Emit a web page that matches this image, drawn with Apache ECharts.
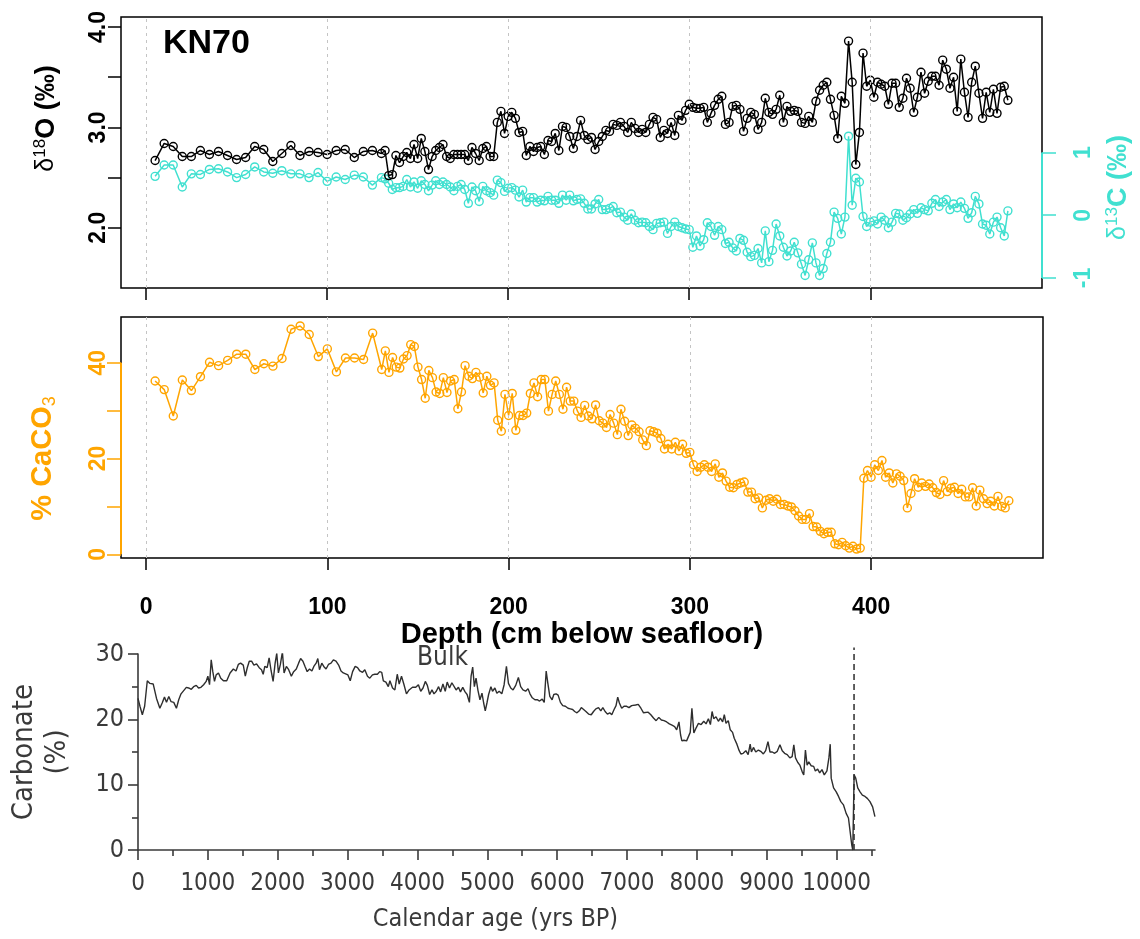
<!DOCTYPE html>
<html>
<head>
<meta charset="utf-8">
<script src="https://cdn.jsdelivr.net/npm/echarts@6.0.0/dist/echarts.min.js"></script>
<style>
html,body{margin:0;padding:0;background:#fff;}
#chart{width:1140px;height:939px;}
</style>
</head>
<body>
<div id="chart"></div>
<script>
// ---------------- DATA ----------------
const depth = [5,10,15,20,25,30,35,40,45,50,55,60,65,70,75,80,85,90,95,100,105,110,115,120,125,130,
132,134,136,138,140,142,144,146,148,150,152,154,156,158,160,162,164,166,168,170,
172,174,176,178,180,182,184,186,188,190,192,194,196,198,200,202,204,206,208,210,
212,214,216,218,220,222,224,226,228,230,232,234,236,238,240,242,244,246,248,250,
252,254,256,258,260,262,264,266,268,270,272,274,276,278,280,282,284,286,288,290,
292,294,296,298,300,302,304,306,308,310,312,314,316,318,320,322,324,326,328,330,
332,334,336,338,340,342,344,346,348,350,352,354,356,358,360,362,364,366,368,370,
372,374,376,378,380,382,384,386,388,390,392,394,396,398,400,402,404,406,408,410,
412,414,416,418,420,422,424,426,428,430,432,434,436,438,440,442,444,446,448,450,
452,454,456,458,460,462,464,466,468,470,472,474,476];

const d18O = [2.67,2.84,2.81,2.71,2.71,2.77,2.73,2.76,2.72,2.68,2.70,2.81,2.78,2.66,2.74,2.82,2.72,2.76,2.75,2.73,2.77,2.78,2.70,2.76,2.77,2.74,
2.77,2.52,2.53,2.72,2.65,2.71,2.75,2.69,2.83,2.69,2.89,2.76,2.58,2.71,2.77,2.80,2.83,2.71,2.69,2.73,
2.73,2.73,2.73,2.67,2.80,2.74,2.67,2.79,2.81,2.71,2.71,3.05,3.16,2.94,3.11,3.15,3.09,2.95,2.96,2.72,
2.81,2.76,2.80,2.81,2.73,2.87,2.86,2.94,2.77,3.01,3.00,2.91,2.79,2.91,3.07,2.92,2.88,2.90,2.78,2.86,
2.91,2.97,2.96,3.03,3.02,3.05,3.01,2.95,3.05,2.99,2.95,2.98,2.95,3.03,3.10,3.08,2.90,2.97,2.94,3.05,
2.92,3.12,3.07,3.17,3.23,3.20,3.19,3.19,3.20,3.05,3.14,3.22,3.28,3.31,3.03,3.05,3.21,3.22,3.18,2.96,
3.09,3.15,3.13,2.98,3.05,3.29,3.15,3.13,3.18,3.32,3.05,3.21,3.16,3.17,3.16,3.05,3.04,3.11,3.05,3.26,
3.37,3.42,3.45,3.28,3.12,2.89,3.31,3.24,3.86,3.45,2.63,2.95,3.74,3.41,3.47,3.30,3.45,3.43,3.41,3.23,
3.44,3.44,3.20,3.29,3.49,3.39,3.15,3.30,3.55,3.34,3.46,3.51,3.51,3.42,3.67,3.58,3.39,3.50,3.16,3.68,
3.35,3.10,3.45,3.61,3.34,3.09,3.35,3.15,3.38,3.14,3.40,3.41,3.27];

const d13C = [0.62,0.80,0.80,0.45,0.66,0.65,0.73,0.74,0.69,0.60,0.65,0.77,0.69,0.67,0.71,0.66,0.66,0.60,0.68,0.54,0.61,0.57,0.64,0.61,0.48,0.60,
0.58,0.51,0.41,0.44,0.44,0.46,0.57,0.45,0.53,0.43,0.55,0.49,0.39,0.48,0.55,0.49,0.53,0.49,0.45,0.39,
0.46,0.49,0.41,0.19,0.45,0.39,0.22,0.46,0.39,0.36,0.32,0.56,0.52,0.38,0.43,0.44,0.40,0.29,0.40,0.21,
0.28,0.28,0.21,0.24,0.23,0.30,0.24,0.24,0.19,0.32,0.24,0.32,0.23,0.25,0.26,0.19,0.10,0.10,0.18,0.25,
0.09,0.09,0.11,0.14,0.04,0.05,-0.03,-0.08,0.02,-0.08,-0.12,-0.11,-0.12,-0.18,-0.23,-0.13,-0.12,-0.11,-0.29,-0.18,
-0.11,-0.18,-0.20,-0.22,-0.23,-0.51,-0.33,-0.49,-0.39,-0.12,-0.18,-0.32,-0.18,-0.23,-0.45,-0.43,-0.52,-0.57,-0.37,-0.40,
-0.59,-0.66,-0.64,-0.53,-0.76,-0.25,-0.74,-0.56,-0.14,-0.33,-0.51,-0.65,-0.57,-0.43,-0.60,-0.78,-0.96,-0.71,-0.44,-0.76,
-0.96,-0.85,-0.61,-0.43,0.05,-0.05,-0.30,-0.03,1.26,0.16,0.59,0.53,-0.02,-0.18,-0.11,-0.09,-0.14,-0.03,-0.08,-0.20,
-0.11,0.03,0.02,-0.08,-0.04,0.02,0.09,0.03,0.12,0.09,0.07,0.19,0.25,0.14,0.21,0.25,0.09,0.18,0.12,0.21,
0.11,-0.05,0.04,0.30,0.18,-0.14,-0.16,-0.30,-0.11,-0.03,-0.20,-0.33,0.07];

const caco3 = [36.2,34.4,28.9,36.4,34.2,37.1,40.1,39.4,40.5,41.8,41.8,38.6,39.8,39.3,40.9,47.0,47.7,45.9,41.3,42.9,38.1,41.0,41.0,40.7,46.2,38.6,
42.5,38.0,41.1,39.1,38.9,40.8,41.5,43.8,43.4,39.1,36.5,32.6,38.4,36.9,33.9,33.6,36.9,33.8,36.2,36.5,
30.4,33.9,39.4,37.2,36.7,38.0,37.0,33.7,37.2,35.3,35.8,28.0,25.7,33.4,29.0,33.6,25.9,29.0,29.0,29.5,
33.6,35.8,32.9,36.5,36.5,29.9,33.4,36.2,33.4,30.3,34.9,32.0,32.0,29.9,28.6,31.1,28.9,28.3,31.2,27.9,
27.4,26.5,29.2,27.4,25.0,30.3,27.8,24.8,27.0,26.3,25.6,23.9,22.7,25.8,25.6,25.3,24.2,22.0,23.0,22.0,
23.4,21.6,23.0,21.1,21.3,18.7,17.3,18.2,18.7,18.2,17.3,18.9,16.1,17.0,15.3,14.0,13.9,14.6,14.9,15.1,
13.0,13.0,11.6,11.8,9.7,11.3,11.6,11.1,11.5,10.4,10.4,10.1,9.9,9.1,8.0,7.3,7.3,8.5,5.8,5.7,
4.8,4.3,4.6,4.6,2.2,2.0,2.5,1.8,1.3,1.7,1.1,1.3,15.9,17.5,16.1,18.7,17.5,19.6,16.1,17.0,
14.9,16.8,16.3,15.4,9.7,12.7,15.8,14.0,14.9,14.2,14.7,13.9,12.9,12.5,15.4,13.1,13.8,14.0,12.7,13.6,
12.0,12.0,13.9,10.1,13.4,11.6,10.6,11.1,10.1,12.1,10.0,9.7,11.2];

const depthTicks = [0,100,200,300,400];
const d18OTicks = [2.0,2.5,3.0,3.5,4.0];
const d18OLabels = [2.0,3.0,4.0];
const d18OLim = [1.5,4.0];
const d13CTicks = [-1,0,1];
const d13CLim = [-1,3];
const caco3Ticks = [0,10,20,30,40];
const caco3Labels = [0,20,40];

const age = [0,28,62,95,133,171,218,265,313,346,379,408,441,474,512,550,583,616,654,692,725,763,796,834,867,901,939,976,1000,1024,1048,1071,1095,1119,1152,1185,1223,1270,1318,1365,1403,1436,1469,1507,1536,1564,1593,1626,1659,1697,1735,1768,1792,1815,1849,1877,1906,1934,1963,1986,2010,2038,2067,2091,2124,2157,2195,2228,2266,2299,2328,2361,2394,2422,2456,2489,2517,2550,2574,2598,2631,2659,2692,2726,2763,2797,2834,2872,2906,2939,2967,3005,3038,3072,3109,3143,3176,3214,3247,3285,3318,3356,3389,3427,3460,3489,
3512,3549,3583,3606,3644,3677,3711,3739,3772,3805,3843,3881,3929,3976,4014,4047,4080,4113,4142,4175,4208,4237,4270,4303,4332,4365,4398,4426,4459,4493,4521,4554,4587,4616,4649,4682,4711,4744,4768,4791,4815,4839,4867,4895,4924,4948,4971,4995,5019,5052,5075,5109,5137,5170,5208,5241,5274,5303,5336,5369,5407,5445,5478,5511,5549,5583,5611,5644,5682,5715,5748,5786,5815,5843,5867,5895,5928,5952,5985,6014,6047,6080,6118,6156,6189,6222,6251,6284,6317,6346,6379,6412,6450,6488,6521,6554,6592,6625,6654,6687,6720,6753,6782,6815,6843,6867,6891,6924,6957,6995,7028,
7066,7123,7161,7199,7237,7265,7303,7341,7379,7417,7455,7492,7530,7568,7606,7644,7682,7711,7744,7767,7786,7815,7853,7881,7905,7929,7957,7990,8023,8061,8099,8132,8165,8194,8218,8241,8274,8308,8336,8369,8393,8417,8450,8478,8511,8535,8573,8606,8630,8663,8701,8734,8763,8781,8810,8843,8881,8914,8952,8985,9018,9047,9080,9113,9151,9189,9222,9256,9293,9331,9364,9388,9412,9445,9474,9507,9530,9554,9578,9602,9635,9672,9696,9729,9758,9791,9824,9862,9890,9909,9923,9957,9995,10028,10061,10099,10137,10170,10194,10217,10232,10251,10274,10303,10336,10369,10407,10440,10478,10516,10549];

const carb = [23.2,22.0,20.7,22.0,25.9,25.5,25.4,23.2,21.7,22.5,23.4,22.6,23.5,22.7,22.6,21.7,23.0,23.9,24.4,24.9,24.8,24.6,25.0,25.2,24.8,24.9,25.3,25.8,26.6,25.3,29.1,27.3,25.8,26.8,27.1,26.3,25.9,25.9,27.1,27.7,27.4,28.4,28.6,28.3,26.6,27.9,28.9,28.9,28.3,28.5,27.9,27.6,26.9,28.1,27.9,29.4,27.4,25.8,28.6,30.1,27.1,28.4,30.3,27.1,28.1,27.6,26.6,27.3,27.7,28.6,29.3,28.9,28.0,27.3,27.7,27.4,28.1,28.6,29.3,27.6,28.6,28.1,27.7,28.4,28.6,29.1,28.9,28.3,27.4,27.1,27.3,26.8,25.9,27.3,28.1,27.9,27.4,27.2,27.6,26.6,26.3,26.8,26.9,26.9,27.3,27.2,
25.9,25.7,25.0,25.9,24.8,24.5,26.9,25.4,26.6,25.4,23.9,24.5,24.9,24.9,25.3,24.3,24.8,25.8,25.2,23.8,24.5,23.9,24.3,25.0,24.2,25.4,24.3,25.7,24.8,25.6,25.7,24.5,24.9,24.2,24.9,24.2,23.8,22.6,26.6,28.0,25.0,26.3,24.4,23.0,24.0,22.5,21.3,22.5,23.8,25.0,24.3,24.8,24.0,24.3,23.9,25.3,28.1,25.5,24.8,24.5,25.2,26.4,25.0,24.5,24.3,24.7,23.9,23.3,23.0,23.0,22.8,23.1,22.6,27.4,25.5,23.5,23.0,23.8,23.9,23.7,22.6,22.1,22.0,21.7,21.6,21.5,21.2,21.0,21.3,21.8,21.5,21.2,20.8,20.7,21.2,21.6,21.8,21.3,21.8,21.2,20.8,21.0,20.7,21.5,22.1,23.4,22.5,21.7,22.0,22.0,21.8,
22.1,22.2,22.3,21.7,21.0,20.7,21.1,20.7,20.2,19.8,20.3,19.9,19.8,19.6,19.3,19.1,18.9,18.4,19.6,17.6,16.7,16.8,16.7,16.8,18.0,21.7,17.9,18.7,19.4,19.2,19.7,19.3,20.1,19.2,21.2,20.1,20.4,19.7,20.2,19.6,20.7,19.4,19.8,18.4,18.0,17.1,16.2,15.2,14.7,14.8,15.2,14.6,16.2,15.0,15.7,15.0,15.3,15.1,14.7,15.2,16.6,15.0,15.0,14.8,15.1,16.1,15.2,14.8,14.6,14.1,14.3,16.1,14.1,13.4,13.0,12.0,11.5,15.3,13.0,13.5,12.9,12.8,12.1,12.4,11.8,12.3,11.5,12.1,14.1,16.2,11.0,9.5,8.9,8.2,7.4,6.9,5.6,4.9,2.8,0.8,0.0,11.5,11.0,9.5,8.9,8.4,8.2,7.9,7.4,6.6,5.1];

const ageTicks = [0,1000,2000,3000,4000,5000,6000,7000,8000,9000,10000];
const ageMinorTicks = [500,1500,2500,3500,4500,5500,6500,7500,8500,9500,10500];
const ageLim = [0,10550];
const carbTicks = [0,10,20,30];
const carbMinorTicks = [5,15,25];
const carbLim = [0,30];
const eventAge = 10250;
const eventTop = 31;

// ---------------- HELPERS ----------------
const zip = (a,b) => a.map((v,i)=>[v,b[i]]);
const rExt = (lo,hi) => [lo-0.04*(hi-lo), hi+0.04*(hi-lo)]; // R default axis padding
const dRange = rExt(depth[0], depth[depth.length-1]);
const oRange = rExt(d18OLim[0], d18OLim[1]);
const cRange = rExt(d13CLim[0], d13CLim[1]);
const kRange = rExt(Math.min(...caco3), Math.max(...caco3));

const BLACK = '#000000', TURQ = '#40E0D0', ORANGE = '#FFA500', GREY = '#3a3a3a';
const SANS = "'Liberation Sans', Arial, Helvetica, sans-serif";
const NARROW = "'Liberation Sans Narrow', 'Arial Narrow', 'DejaVu Sans Condensed', sans-serif";
const plain = v => String(v);

function depthAxis(grid, showLabels){
  return {
    type:'value', gridIndex:grid, min:dRange[0], max:dRange[1], position:'bottom',
    axisLine:{show:false, onZero:false},
    axisTick:{show:true, customValues:depthTicks, length:12, lineStyle:{color:BLACK, width:1.5}},
    axisLabel:{show:showLabels, customValues:depthTicks, margin:38, color:BLACK,
      fontFamily:SANS, fontWeight:'bold', fontSize:23, formatter:plain},
    splitLine:{show:false}
  };
}

function gridLines(xi, yi){
  return {type:'line', xAxisIndex:xi, yAxisIndex:yi, data:[], silent:true, z:1,
    markLine:{silent:true, symbol:['none','none'], label:{show:false}, animation:false,
      emphasis:{disabled:true},
      lineStyle:{color:'#c4c4c4', width:1, type:[3,4]},
      data: depthTicks.map(v=>({xAxis:v}))}};
}

function ptSeries(xi, yi, data, color){
  return {type:'line', xAxisIndex:xi, yAxisIndex:yi, data:data, z:3,
    symbol:'circle', symbolSize:8, showAllSymbol:true,
    itemStyle:{color:'rgba(0,0,0,0)', borderColor:color, borderWidth:1.4},
    lineStyle:{color:color, width:1.5},
    emphasis:{disabled:true}};
}

const option = {
  animation:false,
  backgroundColor:'#ffffff',
  grid:[
    {left:121, top:17, width:922, height:271, show:true, borderColor:BLACK, borderWidth:1.5, backgroundColor:'transparent'},
    {left:121, top:317, width:922, height:241, show:true, borderColor:BLACK, borderWidth:1.5, backgroundColor:'transparent'},
    {left:133, top:654, width:742, height:196, show:false}
  ],
  xAxis:[
    depthAxis(0,false),
    Object.assign(depthAxis(1,true), {
      name:'Depth (cm below seafloor)', nameLocation:'middle', nameGap:62,
      nameTextStyle:{fontFamily:SANS, fontWeight:'bold', fontSize:29, color:BLACK}
    }),
    {type:'value', gridIndex:2, min:ageLim[0], max:ageLim[1], position:'bottom',
      axisLine:{show:true, onZero:false, lineStyle:{color:GREY, width:1.6}},
      axisTick:{show:true, customValues:ageTicks, length:10, lineStyle:{color:GREY, width:1.6}},
      axisLabel:{customValues:ageTicks, margin:22, color:GREY, fontFamily:NARROW, fontSize:24,
        formatter:plain, hideOverlap:false},
      splitLine:{show:false},
      name:'Calendar age (yrs BP)', nameLocation:'middle', nameGap:57,
      nameTextStyle:{fontFamily:NARROW, fontSize:25, color:GREY, padding:[0,22,0,0]}
    },
    {type:'value', gridIndex:2, min:ageLim[0], max:ageLim[1], position:'bottom',
      axisLine:{show:false, onZero:false},
      axisTick:{show:true, customValues:ageMinorTicks, length:6, lineStyle:{color:GREY, width:1.6}},
      axisLabel:{show:false}, splitLine:{show:false}
    }
  ],
  yAxis:[
    {type:'value', gridIndex:0, min:oRange[0], max:oRange[1], position:'left',
      axisLine:{show:false, onZero:false},
      axisTick:{show:true, customValues:d18OTicks, length:13, lineStyle:{color:BLACK, width:1.5}},
      axisLabel:{customValues:d18OLabels, rotate:90, margin:11, color:BLACK, fontFamily:SANS,
        fontWeight:'bold', fontSize:23, formatter:v=>Number(v).toFixed(1)},
      splitLine:{show:false},
      name:'{d|δ}{s|18}{b|O (‰)}', nameLocation:'middle', nameRotate:90, nameGap:60,
      nameTextStyle:{color:BLACK, padding:[0,0,0,68], fontFamily:SANS,
        rich:{d:{fontSize:25, fontFamily:SANS, color:BLACK},
              s:{fontSize:17, fontFamily:SANS, color:BLACK, verticalAlign:'top', lineHeight:29},
              b:{fontSize:27, fontFamily:SANS, fontWeight:'bold', color:BLACK}}}
    },
    {type:'value', gridIndex:0, min:cRange[0], max:cRange[1], position:'right',
      axisLine:{show:false, onZero:false},
      axisTick:{show:true, customValues:d13CTicks, length:14, lineStyle:{color:TURQ, width:1.5}},
      axisLabel:{customValues:d13CTicks, rotate:90, margin:30, color:TURQ, fontFamily:SANS,
        fontWeight:'bold', fontSize:23},
      splitLine:{show:false},
      name:'{d|δ}{s|13}{b|C (‰)}', nameLocation:'middle', nameRotate:90, nameGap:62,
      nameTextStyle:{color:TURQ, padding:[0,70,0,0], fontFamily:SANS,
        rich:{d:{fontSize:25, fontFamily:SANS, color:TURQ},
              s:{fontSize:17, fontFamily:SANS, color:TURQ, verticalAlign:'top', lineHeight:29},
              b:{fontSize:27, fontFamily:SANS, fontWeight:'bold', color:TURQ}}}
    },
    {type:'value', gridIndex:1, min:kRange[0], max:kRange[1], position:'left',
      axisLine:{show:false, onZero:false},
      axisTick:{show:true, customValues:caco3Ticks, length:14, lineStyle:{color:ORANGE, width:1.5}},
      axisLabel:{customValues:caco3Labels, rotate:90, margin:11, color:ORANGE, fontFamily:SANS,
        fontWeight:'bold', fontSize:23, formatter:plain},
      splitLine:{show:false},
      name:'{b|% CaCO}{s|3}', nameLocation:'middle', nameRotate:90, nameGap:62,
      nameTextStyle:{color:ORANGE, padding:[0,42,0,0], fontFamily:SANS,
        rich:{b:{fontSize:29, fontFamily:SANS, fontWeight:'bold', color:ORANGE},
              s:{fontSize:18, fontFamily:SANS, color:ORANGE, verticalAlign:'bottom', lineHeight:32}}}
    },
    {type:'value', gridIndex:2, min:carbLim[0], max:carbLim[1], position:'left',
      axisLine:{show:true, onZero:false, lineStyle:{color:GREY, width:1.6}},
      axisTick:{show:true, customValues:carbTicks, length:10, lineStyle:{color:GREY, width:1.6}},
      axisLabel:{customValues:carbTicks, margin:14, color:GREY, fontFamily:NARROW, fontSize:25, formatter:plain},
      splitLine:{show:false},
      name:'Carbonate\n(%)', nameLocation:'middle', nameRotate:90, nameGap:64,
      nameTextStyle:{color:GREY, fontFamily:NARROW, fontSize:29, lineHeight:33}
    },
    {type:'value', gridIndex:2, min:carbLim[0], max:carbLim[1], position:'left',
      axisLine:{show:false, onZero:false},
      axisTick:{show:true, customValues:carbMinorTicks, length:6, lineStyle:{color:GREY, width:1.6}},
      axisLabel:{show:false}, splitLine:{show:false}
    }
  ],
  graphic:[
    {type:'text', left:163, top:27, z:10, style:{text:'KN70', fill:BLACK, font:"bold 34px 'Liberation Sans', Arial, sans-serif"}},
    {type:'text', left:417, top:645, z:10, style:{text:'Bulk', fill:GREY, font:"26px 'Liberation Sans Narrow', 'Arial Narrow', 'DejaVu Sans Condensed', sans-serif"}}
  ],
  series:[
    gridLines(0,0),
    gridLines(1,2),
    ptSeries(0,1,zip(depth,d13C),TURQ),
    ptSeries(0,0,zip(depth,d18O),BLACK),
    ptSeries(1,2,zip(depth,caco3),ORANGE),
    {type:'line', xAxisIndex:0, yAxisIndex:1, data:[], silent:true, z:4,
      markLine:{silent:true, symbol:['none','none'], label:{show:false}, animation:false,
        lineStyle:{color:TURQ, width:2, type:'solid'},
        data:[[{coord:[dRange[1], d13CTicks[0]]},{coord:[dRange[1], d13CTicks[d13CTicks.length-1]]}]]}},
    {type:'line', xAxisIndex:1, yAxisIndex:2, data:[], silent:true, z:4,
      markLine:{silent:true, symbol:['none','none'], label:{show:false}, animation:false,
        lineStyle:{color:ORANGE, width:2, type:'solid'},
        data:[[{coord:[dRange[0], caco3Ticks[0]]},{coord:[dRange[0], caco3Ticks[caco3Ticks.length-1]]}]]}},
    {type:'line', xAxisIndex:2, yAxisIndex:3, data:zip(age,carb), showSymbol:false, z:3,
      lineStyle:{color:'#2e2e2e', width:1.4}, emphasis:{disabled:true}},
    {type:'line', xAxisIndex:2, yAxisIndex:3, data:[[eventAge,0],[eventAge,eventTop]], showSymbol:false, clip:false, z:2,
      lineStyle:{color:'#2e2e2e', width:1.5, type:[6,4]}, emphasis:{disabled:true}}
  ]
};

const chart = echarts.init(document.getElementById('chart'), null, {renderer:'canvas'});
chart.setOption(option);
</script>
</body>
</html>
